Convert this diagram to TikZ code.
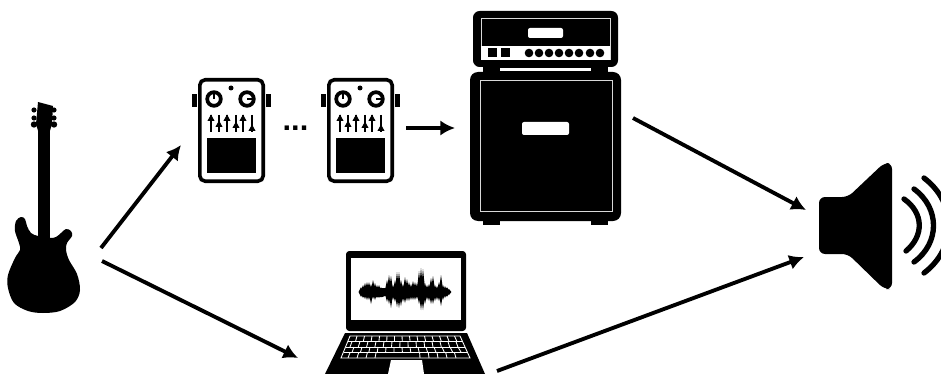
\documentclass[tikz,border=0pt]{standalone}
\usepackage{fontspec}
\setmainfont{Liberation Sans}
\usetikzlibrary{arrows.meta}
\tikzset{
  flow/.style={-{Latex[length=11pt,width=11.5pt]},black,line width=2.9pt},
  gitter/.style={white,line width=0.65pt},
  rille/.style={white!85!black,line width=0.75pt},
  welle/.style={black,line width=4pt,line cap=round},
  fader/.style={black,line width=1.3pt},
  pedal/.pic={
    \fill (192,94) rectangle (197,107);
    \fill (266,94) rectangle (271,107);
    \draw[black,line width=2.7pt,rounded corners=4pt] (199.8,79.8) rectangle (263.2,181.2);
    \fill (207,138) rectangle (256,173);
    \draw[black,line width=2.8pt] (214,99) circle (6.8);
    \draw[black,line width=1.8pt] (214,92) -- (214,99);
    \draw[black,line width=2.8pt] (247,99) circle (6.8);
    \draw[black,line width=1.8pt] (247,99) -- (254,99);
    \fill (231,88) circle (2.5);
    \foreach \x/\t in {211/118,219/124,227/118,236/125,243/118,252/128}{
      \draw[fader] (\x,115) -- (\x,132);
      \fill (\x-3.6,\t+3) -- (\x,\t-3.5) -- (\x+3.6,\t+3) -- cycle;
    }
  },
}
\begin{document}
\begin{tikzpicture}[x=0.75pt,y=-0.75pt]
  \useasboundingbox (0,0) rectangle (941,374);
  % guitar
  \fill plot[smooth cycle,tension=0.55] coordinates {(38,236) (31,233) (27,226) (25,219) (21,217) (16,221) (15,231) (19,243) (20,250) (15,258) (8,275) (8,288) (14,303) (28,311) (43,313) (60,311) (75,302) (80,290) (77,274) (69,260) (66,250) (67,243) (72,236) (71,231) (66,229) (61,233) (56,237) (50,238)};
  \fill (38,125) rectangle (50,240);
  \fill (38,102) -- (53,106) -- (52,124) -- (49,134) -- (39,134) -- (36,124) -- cycle;
  \foreach \y/\r in {110/2.6,118/2.6,124.5/3.2}{
    \fill (34,\y) circle (\r);
    \fill (54,\y) circle (\r);
  }
  % pedals
  \pic at (0,0) {pedal};
  \pic at (129,0) {pedal};
  \node[font=\bfseries\fontsize{23}{23}\selectfont,inner sep=0pt] (dots) at (295.5,128) {...};
  % amp
  \fill[rounded corners=5pt] (473,11) rectangle (618,67);
  \fill (483,62) rectangle (608,75);
  \fill[rounded corners=6pt] (470,72) rectangle (621,221);
  \fill (483,215) rectangle (500,225);
  \fill (591,215) rectangle (608,225);
  \draw[rille] (481,19) rectangle (610,60);
  \fill[white] (481,46) rectangle (610,60);
  \fill (488,48) rectangle (497,57);
  \fill (501,48) rectangle (510,57);
  \foreach \x in {529,539,549,559,569,579,590,600}
    \fill (\x,53) circle (4.3);
  \fill[white,rounded corners=1.5pt] (528,28) rectangle (563,38);
  \fill[white] (500,68) rectangle (591,71);
  \draw[rille] (480,81) rectangle (612,211);
  \fill[white,rounded corners=1.5pt] (522,122) rectangle (569,135);
  % laptop
  \fill[rounded corners=2.5pt] (346,251) rectangle (466,331);
  \fill[white] (351,258) rectangle (461,320);
  \fill[rounded corners=2pt] (361,288) rectangle (385,297);
  \foreach \x/\u/\d in {361/5/5,363/7/6,365/9/7,367/10/8,369/10/8,371/8/12,373/12/7,375/9/8,377/7/6,379/7/6,381/5/5,383/3/3,385/3/3,387/12/10,389/17/12,391/16/16,393/7/8,395/12/10,397/20/15,399/20/16,401/12/14,403/8/10,405/15/11,407/13/9,409/10/9,411/8/8,413/11/8,415/10/8,417/9/7,419/21/12,421/24/18,423/23/18,425/9/12,427/7/8,429/8/9,431/14/12,433/16/12,435/7/9,437/6/8,439/10/9,441/17/14,443/7/8,445/6/6,447/5/5,449/3/3}
    \fill (\x-2.4,292) -- (\x,292-\u) -- (\x+2.4,292) -- (\x,292+\d) -- cycle;
  \fill[rounded corners=2pt] (361,288) rectangle (449,296);
  \fill (345,333) -- (467,333) -- (485,374) -- (325,374) -- cycle;
  \fill[white] (391,360) -- (422,360) -- (424,374) -- (388,374) -- cycle;
  \draw[gitter] (350,336) -- (460,336) -- (470,358) -- (341,358) -- cycle;
  \draw[gitter] (348,341.5) -- (463,341.5);
  \draw[gitter] (346,347) -- (465,347);
  \draw[gitter] (343.5,352.5) -- (468,352.5);
  \foreach \x in {0,1,...,13}{
    \draw[gitter] (357+7.5*\x,336) -- (355.5+7.8*\x,341.5);
    \draw[gitter] (352+8*\x,341.5) -- (350+8.3*\x,347);
    \draw[gitter] (354+8*\x,347) -- (352+8.4*\x,352.5);
  }
  \foreach \x in {0,1,2,3,8,9,10,11,12}
    \draw[gitter] (350+8.7*\x,352.5) -- (348+9*\x,358);
  % speaker
  \fill[rounded corners=4.5pt] (819,197) -- (848,197) -- (884,163) -- (892,163) -- (892,289) -- (884,289) -- (848,254) -- (819,254) -- cycle;
  \draw[welle] (904,199) .. controls (924,213) and (924,236) .. (906,251);
  \draw[welle] (914,189) .. controls (940,208) and (940,243) .. (914,262);
  \draw[welle] (924,178) .. controls (957,203) and (957,248) .. (924,273);
  % connectors
  \coordinate (guitarup) at (101,248);
  \coordinate (pedalin) at (181,145);
  \coordinate (pedalout) at (406,128);
  \coordinate (ampin) at (455,128);
  \coordinate (ampout) at (633,118);
  \coordinate (speakerup) at (806,210);
  \coordinate (guitarlow) at (102,261);
  \coordinate (laptopin) at (298,358);
  \coordinate (laptopout) at (497,371);
  \coordinate (speakerlow) at (804,257);
  \draw[flow] (guitarup) -- (pedalin);
  \draw[flow] (pedalout) -- (ampin);
  \draw[flow] (ampout) -- (speakerup);
  \draw[flow] (guitarlow) -- (laptopin);
  \draw[flow] (laptopout) -- (speakerlow);
\end{tikzpicture}
\end{document}
